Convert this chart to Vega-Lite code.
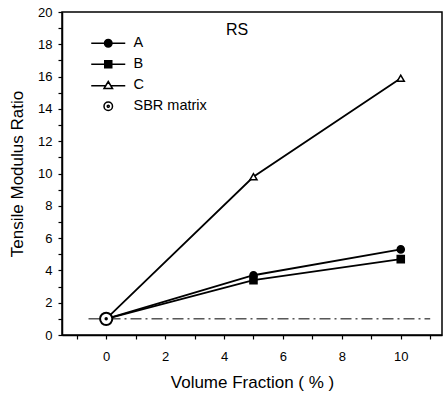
{
  "$schema": "https://vega.github.io/schema/vega-lite/v6.json",
  "width": 380,
  "height": 323,
  "autosize": "none",
  "padding": {"left": 62, "top": 12, "right": 1, "bottom": 59},
  "background": "white",
  "config": {
    "font": "Liberation Sans",
    "view": {"stroke": "black", "strokeWidth": 1.5},
    "axis": {"grid": false, "domainColor": "black", "domainWidth": 1.5, "tickColor": "black", "tickWidth": 1.2, "labelColor": "black", "titleColor": "black", "labelFont": "Liberation Sans", "titleFont": "Liberation Sans", "labelFontSize": 13, "titleFontSize": 17, "titleFontWeight": "normal", "labelOverlap": false}
  },
  "title": {"text": "RS", "orient": "top", "anchor": "middle", "offset": -32, "dx": -15, "fontSize": 16, "fontWeight": "normal", "font": "Liberation Sans", "color": "black"},
  "datasets": {
    "curves": [
      {"series": "A", "x": 0, "y": 1},
      {"series": "A", "x": 5, "y": 3.7},
      {"series": "A", "x": 10, "y": 5.3},
      {"series": "B", "x": 0, "y": 1},
      {"series": "B", "x": 5, "y": 3.4},
      {"series": "B", "x": 10, "y": 4.7},
      {"series": "C", "x": 0, "y": 1},
      {"series": "C", "x": 5, "y": 9.8},
      {"series": "C", "x": 10, "y": 15.9}
    ],
    "matrix": [{"series": "SBR matrix", "x": 0, "y": 1}],
    "baseline": [{"x": -0.6, "x2": 11, "y": 1}],
    "legendrows": [
      {"series": "A", "x": 0, "y": 1},
      {"series": "B", "x": 0, "y": 1},
      {"series": "C", "x": 0, "y": 1},
      {"series": "SBR matrix", "x": 0, "y": 1}
    ]
  },
  "encoding": {
    "x": {"field": "x", "type": "quantitative", "scale": {"domain": [-1.5, 11.4], "nice": false, "zero": false},
      "axis": {"title": "Volume Fraction ( % )",
        "values": [-1, -0.5, 0, 0.5, 1, 1.5, 2, 2.5, 3, 3.5, 4, 4.5, 5, 5.5, 6, 6.5, 7, 7.5, 8, 8.5, 9, 9.5, 10, 10.5, 11],
        "format": "d",
        "labelExpr": "datum.value % 2 === 0 ? datum.label : ''",
        "ticks": true, "tickSize": 4, "labelOverlap": false,
        "labelPadding": 11, "titlePadding": 11, "labelFlush": false}},
    "y": {"field": "y", "type": "quantitative", "scale": {"domain": [0, 20], "nice": false, "zero": false},
      "axis": {"title": "Tensile Modulus Ratio",
        "values": [0, 0.5, 1, 1.5, 2, 2.5, 3, 3.5, 4, 4.5, 5, 5.5, 6, 6.5, 7, 7.5, 8, 8.5, 9, 9.5, 10, 10.5, 11, 11.5, 12, 12.5, 13, 13.5, 14, 14.5, 15, 15.5, 16, 16.5, 17, 17.5, 18, 18.5, 19, 19.5, 20],
        "format": "d",
        "labelExpr": "datum.value % 2 === 0 ? datum.label : ''",
        "ticks": true, "tickSize": 4, "labelOverlap": false,
        "labelPadding": 6, "titlePadding": 11, "labelFlush": false}}
  },
  "layer": [
    {
      "data": {"name": "curves"},
      "mark": {"type": "line", "color": "black"},
      "encoding": {
        "detail": {"field": "series"},
        "strokeWidth": {"field": "series", "type": "nominal", "scale": {"domain": ["A", "B", "C"], "range": [1.8, 1.8, 1.1]}, "legend": null}
      }
    },
    {
      "data": {"name": "baseline"},
      "mark": {"type": "rule", "color": "black", "strokeWidth": 1, "strokeDash": [11, 4, 2, 4]},
      "encoding": {
        "x2": {"field": "x2"}
      }
    },
    {
      "data": {"name": "curves"},
      "transform": [{"filter": "datum.x > 0"}],
      "mark": {"type": "point", "filled": false, "stroke": "black", "strokeWidth": 1.5, "size": 50, "opacity": 1},
      "encoding": {
        "shape": {"field": "series", "type": "nominal", "scale": {"domain": ["A", "B", "C"], "range": ["circle", "square", "triangle-up"]}, "legend": null},
        "fill": {"field": "series", "type": "nominal", "scale": {"domain": ["A", "B", "C"], "range": ["black", "black", "white"]}, "legend": null}
      }
    },
    {
      "data": {"name": "matrix"},
      "mark": {"type": "point", "shape": "circle", "filled": false, "fill": "white", "fillOpacity": 1, "stroke": "black", "strokeWidth": 2, "size": 150, "opacity": 1},
      "encoding": {}
    },
    {
      "data": {"name": "matrix"},
      "mark": {"type": "point", "shape": "circle", "filled": true, "color": "black", "size": 12, "opacity": 1},
      "encoding": {}
    },
    {
      "data": {"name": "legendrows"},
      "transform": [{"filter": "datum.x > 100"}],
      "mark": {"type": "point", "filled": true, "stroke": "black", "strokeWidth": 1.5, "size": 100, "opacity": 1},
      "encoding": {
        "shape": {"field": "series", "type": "nominal",
          "scale": {"domain": ["A", "B", "C", "SBR matrix"],
            "range": [
              "M-3.4,0H3.4M-0.75,0A0.75,0.75 0 1,1 0.75,0A0.75,0.75 0 1,1 -0.75,0Z",
              "M-3.4,0H3.4M-0.7,-0.7H0.7V0.7H-0.7Z",
              "M-3.4,0.1H-0.55M0.55,0.1H3.4M0,-0.75L0.85,0.65L-0.85,0.65Z",
              "M-0.85,0A0.85,0.85 0 1,1 0.85,0A0.85,0.85 0 1,1 -0.85,0ZM-0.2,0A0.2,0.2 0 1,1 0.2,0A0.2,0.2 0 1,1 -0.2,0Z"
            ]},
          "legend": {"title": null, "orient": "none", "legendX": 39, "legendY": 24, "padding": 0, "symbolSize": 100, "labelFontSize": 14.5, "labelFont": "Liberation Sans", "labelColor": "black", "labelOffset": 18, "rowPadding": 6,
            "encode": {"symbols": {"update": {"stroke": {"value": "black"}, "strokeWidth": {"value": 1.5}, "opacity": {"value": 1}, "fillOpacity": {"value": 1}}}}}},
        "fill": {"field": "series", "type": "nominal",
          "scale": {"domain": ["A", "B", "C", "SBR matrix"], "range": ["black", "black", "white", "white"]},
          "legend": {"title": null, "orient": "none", "legendX": 39, "legendY": 24, "padding": 0, "symbolSize": 100, "labelFontSize": 14.5, "labelFont": "Liberation Sans", "labelColor": "black", "labelOffset": 18, "rowPadding": 6,
            "encode": {"symbols": {"update": {"stroke": {"value": "black"}, "strokeWidth": {"value": 1.5}, "opacity": {"value": 1}, "fillOpacity": {"value": 1}}}}}}
      }
    }
  ],
  "resolve": {"scale": {"shape": "independent", "fill": "independent"}}
}
